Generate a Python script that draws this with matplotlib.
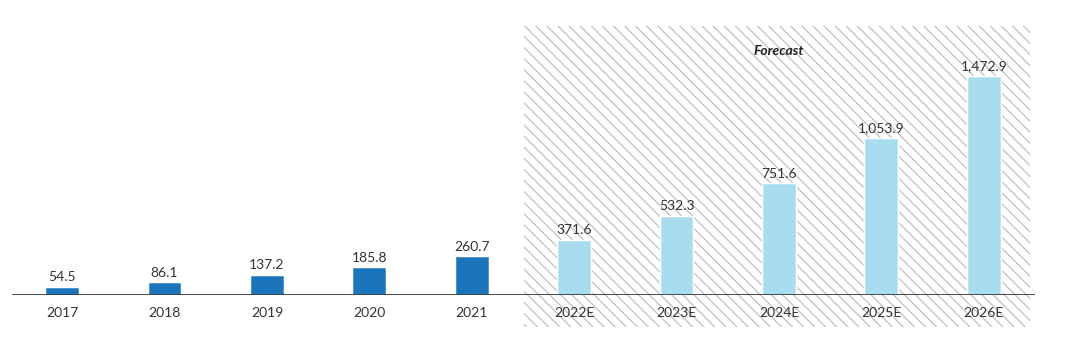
import matplotlib.pyplot as plt
from matplotlib.patches import Rectangle

plt.rcParams['font.family'] = ['Lato', 'DejaVu Sans']
plt.rcParams['hatch.linewidth'] = 0.7

# data
years = ['2017', '2018', '2019', '2020', '2021',
         '2022E', '2023E', '2024E', '2025E', '2026E']
values = [54.5, 86.1, 137.2, 185.8, 260.7,
          371.6, 532.3, 751.6, 1053.9, 1472.9]
n_actual = 5

dark_blue = '#1b75bc'
light_blue = '#a8ddef'
colors = [dark_blue] * n_actual + [light_blue] * (len(values) - n_actual)

fig = plt.figure(figsize=(8.1, 2.5725), dpi=133.33)
ax = fig.add_axes([12 / 1080, 47 / 343, (1035 - 12) / 1080, 296 / 343])

x = list(range(len(years)))

# forecast shaded zone (diagonal hatch, top-left to bottom-right)
back = chr(92)
ax.add_patch(Rectangle((4.51, -215), 4.94, 2024, facecolor='white',
                       edgecolor='#c2c2c2', linewidth=0, hatch=back * 4,
                       clip_on=False, zorder=0))

ax.bar(x, values, width=0.33, color=colors, edgecolor='white',
       linewidth=0.8, zorder=2)

for xi, v in zip(x, values):
    ax.annotate(f'{v:,.1f}', (xi, v), xytext=(0, 2.5), textcoords='offset points',
                ha='center', va='bottom', fontsize=7.5, color='#333333', zorder=3)

ax.text(7.0, 1648, 'Forecast', ha='center', va='center', fontsize=7.5,
        fontweight='bold', fontstyle='italic', color='#222222', zorder=3)

ax.axhline(0, color='#3a3a3a', linewidth=1.5, zorder=3)

ax.set_xlim(-0.49, 9.5)
ax.set_ylim(0, 1990)
ax.set_xticks(x)
ax.set_xticklabels(years, fontsize=7.5, color='#333333')
ax.tick_params(axis='x', length=0, pad=6)
ax.set_yticks([])
for s in ax.spines.values():
    s.set_visible(False)
ax.patch.set_alpha(0)

fig.savefig('out.png', dpi=133.33, facecolor='white')
